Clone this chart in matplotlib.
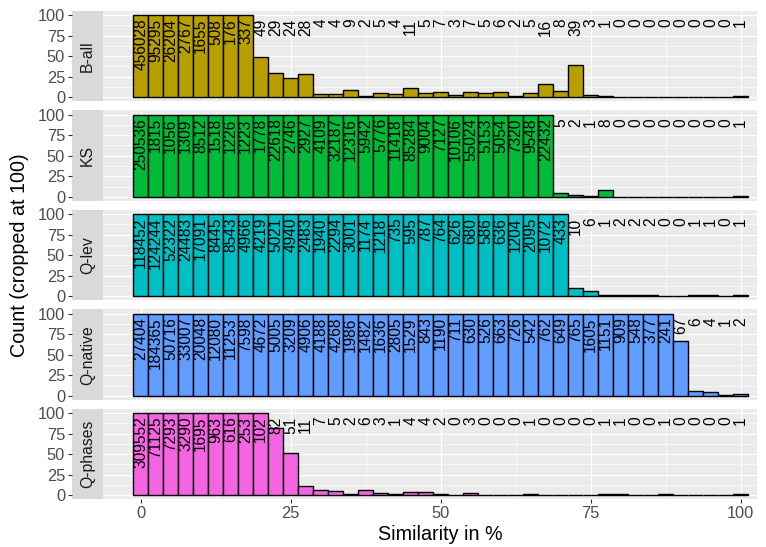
import numpy as np
import matplotlib
matplotlib.use("Agg")
import matplotlib.pyplot as plt

plt.rcParams['font.family'] = ['Liberation Sans', 'DejaVu Sans']

# Histogram bin centres (binwidth 2.5, from 0 to 100)
bin_centers = np.arange(41) * 2.5
binwidth = 2.5
cap = 100

groups = ["B-all", "KS", "Q-lev", "Q-native", "Q-phases"]
colors = ["#B79F00", "#00BA38", "#00BFC4", "#619CFF", "#F564E3"]

counts_b_all = [456028, 95295, 26204, 2767, 1655, 508, 176, 337, 49, 29, 24, 28,
                4, 4, 9, 2, 5, 4, 11, 5, 7, 3, 7, 5, 6, 2, 5, 16, 8, 39, 3, 1,
                0, 0, 0, 0, 0, 0, 0, 0, 1]
counts_ks = [250536, 1815, 1056, 1309, 8512, 1518, 1226, 1223, 1778, 22618, 2746,
             2927, 4109, 32187, 12316, 5942, 5776, 11418, 85284, 9004, 7127,
             10106, 55024, 5153, 5054, 7320, 9548, 22432, 5, 2, 1, 8,
             0, 0, 0, 0, 0, 0, 0, 0, 1]
counts_q_lev = [118452, 124244, 52322, 24483, 17091, 8445, 8543, 4966, 4219, 5021,
                4940, 2483, 1940, 2294, 3001, 1174, 1218, 735, 595, 787, 764, 626,
                680, 586, 636, 1204, 2095, 1072, 433, 10, 6, 1, 2, 2, 2, 0, 0, 1,
                1, 0, 1]
counts_q_native = [27404, 184365, 50716, 33007, 20048, 12080, 11253, 7598, 4672,
                   5005, 3209, 4906, 4188, 4268, 1986, 1482, 1636, 2805, 1529, 843,
                   1190, 711, 630, 526, 663, 726, 542, 762, 649, 765, 1605, 1151,
                   909, 548, 377, 241, 67, 6, 4, 1, 2]
counts_q_phases = [309552, 71125, 7293, 3290, 1695, 963, 616, 253, 102, 82, 51, 11,
                   7, 5, 2, 6, 3, 1, 4, 4, 2, 0, 3, 0, 0, 0, 1, 0, 0, 0, 0, 1, 1,
                   0, 0, 1, 0, 0, 0, 0, 1]

all_counts = [counts_b_all, counts_ks, counts_q_lev, counts_q_native, counts_q_phases]

x_ticks = [0, 25, 50, 75, 100]
x_minor = [12.5, 37.5, 62.5, 87.5]
y_ticks = [0, 25, 50, 75, 100]
y_minor = [12.5, 37.5, 62.5, 87.5]

W, H = 766, 547
fig = plt.figure(figsize=(W / 100, H / 100), dpi=100)


def rect(left, top, right, bottom):
    return [left / W, 1 - bottom / H, (right - left) / W, (bottom - top) / H]


panel_left, panel_right = 103, 757
strip_left = 72
panel_h = 90.5
pitch = 99.5
first_top = 10.9

tick_color = "#333333"
label_color = "#4D4D4D"

for i, (name, col, cnt) in enumerate(zip(groups, colors, all_counts)):
    top = first_top + i * pitch
    bottom = top + panel_h
    ax = fig.add_axes(rect(panel_left, top, panel_right, bottom))
    sax = fig.add_axes(rect(strip_left, top, panel_left, bottom), sharey=ax)

    cnt = np.asarray(cnt)
    heights = np.minimum(cnt, cap)

    ax.set_facecolor("#EBEBEB")
    for v in y_minor:
        ax.axhline(v, color="white", lw=0.45, zorder=0)
    for v in x_minor:
        ax.axvline(v, color="white", lw=0.45, zorder=0)
    for v in y_ticks:
        ax.axhline(v, color="white", lw=0.9, zorder=0)
    for v in x_ticks:
        ax.axvline(v, color="white", lw=0.9, zorder=0)

    ax.bar(bin_centers, heights, width=binwidth, color=col,
           edgecolor="black", linewidth=1.0, zorder=2)

    for xc, c in zip(bin_centers, cnt):
        ax.text(xc, 95.5, str(c), rotation=90, ha="center", va="top",
                fontsize=11.2, color="black", zorder=3)

    ax.set_xlim(-6.3, 102.7)
    ax.set_ylim(-5, 105)
    for s in ax.spines.values():
        s.set_visible(False)
    ax.tick_params(axis="y", left=False, labelleft=False)
    if i == len(groups) - 1:
        ax.set_xticks(x_ticks)
        ax.set_xticklabels([str(t) for t in x_ticks])
        ax.tick_params(axis="x", length=3.0, width=0.8, color=tick_color,
                       labelsize=11.8, labelcolor=label_color, pad=2)
    else:
        ax.set_xticks([])

    # strip on the left, with the y axis outside it
    sax.set_facecolor("#D9D9D9")
    for s in sax.spines.values():
        s.set_visible(False)
    sax.set_xticks([])
    sax.set_yticks(y_ticks)
    sax.set_yticklabels([str(t) for t in y_ticks])
    sax.tick_params(axis="y", length=3.0, width=0.8, color=tick_color,
                    labelsize=11.8, labelcolor=label_color, pad=2)
    sax.text(0.5, 0.5, name, rotation=90, ha="center", va="center",
             transform=sax.transAxes, fontsize=11.3, color="#1A1A1A")

fig.text(440 / W, 1 - 535 / H, "Similarity in %", ha="center", va="center",
         fontsize=14.2)
mid_y = 1 - (first_top + (first_top + 4 * pitch + panel_h)) / 2 / H
fig.text(20 / W, mid_y, "Count (cropped at 100)", rotation=90,
         ha="center", va="center", fontsize=14.2)

fig.savefig("out.png", dpi=100)
